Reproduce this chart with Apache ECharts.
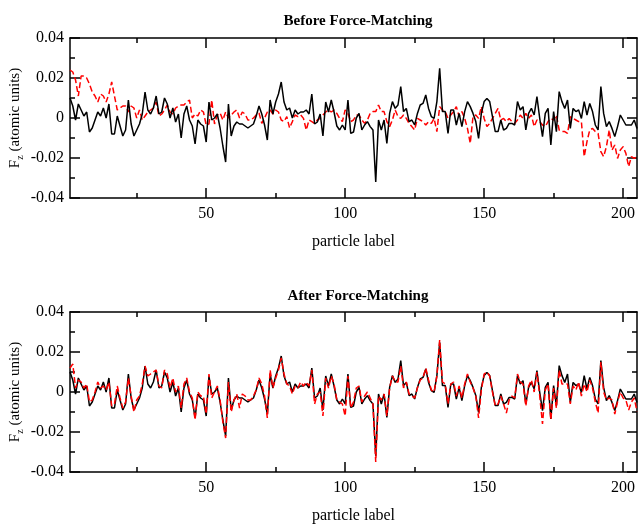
<!DOCTYPE html>
<html><head><meta charset="utf-8">
<script src="https://cdn.jsdelivr.net/npm/echarts@6/dist/echarts.min.js"></script>
<style>html,body{margin:0;padding:0;background:#fff}#c{width:638px;height:527px}</style>
</head><body><div id="c"></div>
<script>
// particle labels 1..205
var particles = [];
for (var p = 1; p <= 205; p++) particles.push(p);

// reference forces (black, same in both panels)
var refForces = [
0.010,0.006,-0.001,0.007,0.004,0.001,0.003,-0.007,-0.005,-0.001,
0.003,0.001,0.005,0.000,0.007,-0.008,-0.008,0.001,-0.004,-0.009,
-0.006,0.009,-0.003,-0.009,-0.006,-0.003,0.002,0.013,0.004,0.002,
0.005,0.011,0.002,0.003,0.010,0.007,0.000,0.005,-0.002,0.002,
-0.010,0.002,0.006,-0.001,-0.004,-0.013,-0.001,-0.003,-0.004,-0.012,
0.008,-0.001,0.000,0.002,-0.005,-0.014,-0.022,0.007,-0.009,-0.004,
-0.002,-0.003,-0.003,-0.004,-0.005,-0.004,-0.003,0.001,0.006,0.002,
-0.0035,-0.011,0.009,0.002,0.008,0.012,0.018,0.008,0.004,0.005,
0.000,0.004,0.002,0.003,0.003,0.004,0.002,0.012,-0.003,-0.002,
0.002,-0.009,0.008,0.003,0.009,0.003,-0.004,-0.006,-0.0035,-0.006,
0.009,-0.0077,-0.007,0.000,0.0023,-0.006,-0.0035,-0.0018,-0.0043,-0.006,
-0.032,-0.001,-0.006,-0.001,-0.0127,0.0023,0.0082,0.0048,0.0065,0.0157,
0.0032,0.0048,-0.0018,-0.001,-0.0035,0.0023,0.0065,0.0073,0.0115,0.0048,
0.0007,-0.0002,0.0082,0.0248,0.0032,0.0032,-0.0077,0.004,0.004,-0.0035,
0.0023,-0.0043,0.0032,0.0082,0.0057,0.0023,-0.0018,-0.0102,0.0023,0.0082,
0.0098,0.0082,0.0007,-0.0068,-0.0068,-0.001,-0.006,-0.0052,-0.0027,-0.0027,
-0.0035,0.0082,0.004,0.0057,-0.006,0.0023,0.0048,0.0015,0.0107,-0.0002,
-0.0093,0.0023,0.0048,-0.0135,0.0032,-0.0068,0.0132,0.0082,0.0048,0.009,
-0.0052,0.0048,0.0032,0.004,-0.0002,0.0082,0.0015,0.0073,0.0032,-0.0035,
-0.006,0.0157,0.0023,-0.0043,-0.0018,-0.0052,-0.0093,-0.0043,0.0015,-0.001,
-0.0035,-0.0035,-0.0035,-0.001,-0.0052
];

// model forces before force-matching (red, top)
var beforeForces = [
0.024,0.023,0.019,0.011,0.021,0.021,0.020,0.017,0.013,0.011,
0.008,0.012,0.011,0.008,0.012,0.018,0.011,0.004,0.005,0.006,
0.006,0.003,0.006,0.005,0.000,0.004,-0.001,0.001,0.003,0.004,
0.005,0.008,0.001,0.002,0.004,0.0065,0.003,0.002,0.005,0.006,
0.0065,0.0065,0.008,0.009,0.000,0.002,0.001,0.004,0.003,-0.0035,
-0.003,0.009,-0.003,0.0015,0.0025,-0.001,0.003,0.000,0.0015,0.003,
0.004,0.000,0.003,0.002,-0.001,-0.001,0.000,0.0015,0.0025,-0.0027,
0.000,0.003,0.004,0.002,0.004,0.003,-0.001,-0.0018,0.0007,-0.005,
-0.0018,0.0015,0.0007,0.0015,-0.0002,-0.006,-0.001,-0.0018,-0.0027,-0.001,
-0.0002,0.0015,0.003,0.004,0.003,0.004,0.0023,-0.0002,-0.0018,0.004,
0.0023,-0.0018,-0.001,0.0015,0.0015,-0.001,-0.0027,-0.001,0.0023,0.0032,
0.0032,0.0065,0.0032,0.0032,-0.0018,-0.0043,-0.001,0.004,0.0007,-0.0002,
0.0015,-0.0002,-0.0027,-0.0043,-0.006,-0.0002,-0.001,-0.0018,-0.0035,-0.0018,
-0.0027,-0.0002,-0.0068,0.0057,0.004,0.0032,-0.0002,0.0015,0.0032,0.0057,
0.0007,0.0032,-0.0002,-0.0052,-0.0127,0.0007,0.0015,-0.0002,0.0057,-0.0002,
-0.0043,-0.0027,-0.0002,0.0023,0.0048,-0.001,-0.0002,-0.0018,-0.0002,-0.0018,
-0.0027,-0.001,0.0015,-0.0002,0.0023,-0.0002,0.0015,-0.0043,-0.001,-0.0018,
-0.0035,-0.0043,-0.0018,-0.0002,-0.001,0.0015,-0.006,-0.0068,-0.0068,-0.0077,
0.0007,-0.0002,-0.001,-0.0018,-0.0018,-0.0193,-0.0118,-0.006,-0.0052,-0.0068,
-0.0077,-0.0168,-0.0193,-0.0143,-0.006,-0.016,-0.0135,-0.0202,-0.016,-0.0143,
-0.0177,-0.0243,-0.0193,-0.0202,-0.0193
];

// model forces after force-matching (red, bottom)
var afterForces = [
0.012,0.014,0.002,0.006,0.005,0.002,0.004,-0.005,-0.004,0.000,
0.005,0.002,0.003,0.001,0.005,-0.007,-0.006,0.003,-0.003,-0.008,
-0.005,0.007,-0.002,-0.010,-0.004,-0.002,0.004,0.013,0.008,0.009,
0.010,0.011,0.003,0.002,0.011,0.009,0.002,0.007,0.000,0.003,
-0.008,0.004,0.007,0.000,-0.003,-0.014,0.000,-0.002,-0.002,-0.011,
0.009,-0.003,0.000,0.003,-0.004,-0.015,-0.023,0.005,-0.010,-0.004,
-0.001,-0.008,-0.001,-0.002,-0.004,-0.004,-0.002,0.001,0.007,0.004,
-0.002,-0.013,0.011,0.002,0.007,0.011,0.017,0.009,0.004,0.003,
-0.001,0.003,0.002,0.005,0.003,0.005,0.003,0.011,-0.006,-0.001,
0.000,-0.012,0.007,0.002,0.008,0.004,-0.004,-0.005,-0.006,-0.012,
0.008,-0.008,-0.005,0.002,0.003,-0.005,-0.002,0.000,-0.003,-0.006,
-0.035,-0.002,-0.004,-0.001,-0.012,0.002,0.008,0.005,0.005,0.013,
0.002,0.005,-0.001,-0.002,-0.003,0.002,0.006,0.007,0.012,0.006,
0.001,0.000,0.008,0.026,0.005,0.004,-0.006,0.004,0.005,-0.002,
0.003,-0.003,0.004,0.009,0.005,0.002,-0.002,-0.013,0.001,0.009,
0.010,0.008,0.000,-0.007,-0.006,-0.002,-0.006,-0.0105,-0.004,-0.002,
-0.003,0.009,0.005,0.004,-0.007,0.003,0.006,0.000,0.010,-0.002,
-0.016,0.001,0.004,-0.014,0.002,-0.008,0.011,0.004,0.004,0.004,
-0.006,0.003,0.001,0.005,-0.002,0.004,0.000,0.006,0.002,-0.005,
-0.0105,0.015,0.000,-0.004,-0.003,-0.004,-0.011,-0.005,0.000,-0.003,
-0.004,-0.009,-0.005,-0.003,-0.0097
];

var panelTitles = ['Before Force-Matching', 'After Force-Matching'];
var xMajorTicks = [50, 100, 150, 200];
var xMinorTicks = [25, 75, 125, 175];

function pairs(vals) { return particles.map(function (x, i) { return [x, vals[i]]; }); }

var FONT = '"Liberation Serif", "Times New Roman", serif';
var LW = 1.5;
var grids = [
  {left: 70, top: 38, width: 567, height: 160, outerBoundsMode: 'none', containLabel: false},
  {left: 70, top: 312, width: 567, height: 160, outerBoundsMode: 'none', containLabel: false}
];

var xAxes = [], yAxes = [];
grids.forEach(function (g, gi) {
  function xa(pos, ticks, len, main, lineShow) {
    var a = {
      type: 'value', gridIndex: gi, position: pos, min: 1, max: 205,
      axisLine: {show: lineShow, onZero: false, lineStyle: {color: '#000', width: LW}},
      axisTick: {show: true, inside: true, length: len, customValues: ticks, lineStyle: {color: '#000', width: LW}},
      axisLabel: {show: false},
      splitLine: {show: false}
    };
    if (main) {
      a.axisLabel = {show: true, customValues: xMajorTicks, margin: 8, color: '#000', fontFamily: FONT, fontSize: 16};
      a.name = 'particle label';
      a.nameLocation = 'middle';
      a.nameGap = 36;
      a.nameMoveOverlap = false;
      a.nameTextStyle = {color: '#000', fontFamily: FONT, fontSize: 16};
    }
    return a;
  }
  xAxes.push(xa('bottom', xMajorTicks, 10, true, true));
  xAxes.push(xa('bottom', xMinorTicks, 5, false, false));
  xAxes.push(xa('top', xMajorTicks, 10, false, true));
  xAxes.push(xa('top', xMinorTicks, 5, false, false));
  function ya(pos, main) {
    var a = {
      type: 'value', gridIndex: gi, position: pos, min: -0.04, max: 0.04, interval: 0.02,
      axisLine: {show: true, onZero: false, lineStyle: {color: '#000', width: LW}},
      axisTick: {show: true, inside: true, length: 10, lineStyle: {color: '#000', width: LW}},
      minorTick: {show: true, splitNumber: 2, length: 5, lineStyle: {color: '#000', width: LW}},
      axisLabel: {show: false},
      splitLine: {show: false}, minorSplitLine: {show: false}
    };
    if (main) {
      a.axisLabel = {show: true, margin: 6, color: '#000', fontFamily: FONT, fontSize: 16,
        formatter: function (v) { return Math.abs(v) < 1e-9 ? '0' : v.toFixed(2); }};
      a.name = '{f|F}{s|z}{f| (atomic units)}';
      a.nameLocation = 'middle';
      a.nameGap = 45;
      a.nameMoveOverlap = false;
      a.nameTextStyle = {color: '#000', fontFamily: FONT, fontSize: 15,
        rich: {
          f: {fontFamily: FONT, fontSize: 15, color: '#000', lineHeight: 17, verticalAlign: 'top', padding: [0, 0, 4, 0]},
          s: {fontFamily: FONT, fontSize: 10, color: '#000', lineHeight: 10, verticalAlign: 'bottom'}
        }};
    }
    return a;
  }
  yAxes.push(ya('left', true));
  yAxes.push(ya('right', false));
});

var option = {
  animation: false,
  backgroundColor: '#fff',
  title: [
    {text: panelTitles[0], left: 353, top: 9, textAlign: 'center',
     textStyle: {fontFamily: FONT, fontWeight: 'bold', fontSize: 15, color: '#000'}},
    {text: panelTitles[1], left: 353, top: 284, textAlign: 'center',
     textStyle: {fontFamily: FONT, fontWeight: 'bold', fontSize: 15, color: '#000'}}
  ],
  grid: grids,
  xAxis: xAxes,
  yAxis: yAxes,
  series: [
    {type: 'line', xAxisIndex: 0, yAxisIndex: 0, data: pairs(refForces), symbol: 'none',
     lineStyle: {color: '#000', width: 1.5}, z: 3},
    {type: 'line', xAxisIndex: 0, yAxisIndex: 0, data: pairs(beforeForces), symbol: 'none',
     lineStyle: {color: '#ff0000', width: 1.5, type: [6, 3]}, z: 2},
    {type: 'line', xAxisIndex: 4, yAxisIndex: 2, data: pairs(refForces), symbol: 'none',
     lineStyle: {color: '#000', width: 1.5}, z: 2},
    {type: 'line', xAxisIndex: 4, yAxisIndex: 2, data: pairs(afterForces), symbol: 'none',
     lineStyle: {color: '#ff0000', width: 1.5, type: [6, 3]}, z: 3}
  ]
};
var chart = echarts.init(document.getElementById('c'), null, {renderer: 'canvas'});
chart.setOption(option);
</script></body></html>
